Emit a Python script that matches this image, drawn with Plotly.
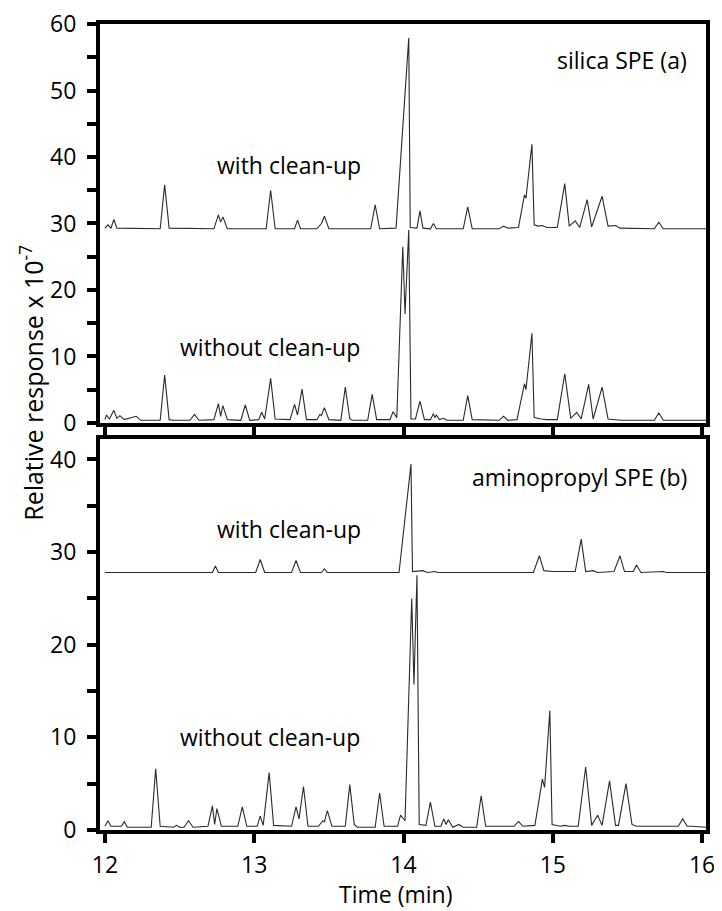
import plotly.graph_objects as go

# silica SPE (a) -- with clean-up (retention time in min, response x 1e-7)
silica_with_t = [12.00, 12.02, 12.04, 12.06, 12.08, 12.37, 12.40, 12.43, 12.73, 12.76, 12.775, 12.79, 12.82,
                 13.08, 13.11, 13.14, 13.27, 13.29, 13.31, 13.42, 13.45, 13.47, 13.50, 13.78, 13.81, 13.84,
                 13.95, 14.035, 14.045, 14.09, 14.11, 14.13, 14.18, 14.20, 14.22, 14.40, 14.43, 14.46,
                 14.64, 14.67, 14.70, 14.77, 14.81, 14.82, 14.86, 14.875, 14.90, 14.93, 14.96,
                 15.03, 15.08, 15.11, 15.15, 15.18, 15.23, 15.26, 15.33, 15.37, 15.42, 15.45,
                 15.68, 15.71, 15.74, 16.03]
silica_with_v = [29.3, 29.8, 29.3, 30.6, 29.3, 29.2, 35.8, 29.3, 29.2, 31.3, 30.2, 31.0, 29.2,
                 29.2, 35.0, 29.2, 29.2, 30.5, 29.2, 29.2, 30.0, 31.1, 29.2, 29.2, 32.8, 29.2,
                 29.3, 57.9, 29.4, 29.3, 31.9, 29.3, 29.2, 30.0, 29.2, 29.2, 32.5, 29.2,
                 29.2, 29.6, 29.3, 29.4, 34.3, 33.8, 41.9, 29.8, 29.6, 29.7, 29.4,
                 29.4, 36.0, 29.6, 30.4, 29.4, 33.6, 29.5, 34.1, 29.6, 29.7, 29.3,
                 29.2, 30.2, 29.2, 29.2]

# silica SPE (a) -- without clean-up
silica_without_t = [12.00, 12.01, 12.03, 12.06, 12.08, 12.10, 12.13, 12.21, 12.24,
                    12.37, 12.40, 12.43, 12.46, 12.57, 12.60, 12.63,
                    12.73, 12.76, 12.775, 12.79, 12.82, 12.91, 12.94, 12.97,
                    13.03, 13.05, 13.07, 13.11, 13.14, 13.24, 13.27, 13.29, 13.32, 13.35,
                    13.42, 13.44, 13.45, 13.47, 13.50, 13.58, 13.61, 13.64, 13.66,
                    13.76, 13.79, 13.82, 13.91, 13.93, 13.955, 13.995, 14.01, 14.035, 14.05,
                    14.08, 14.11, 14.14, 14.18, 14.20, 14.21, 14.22, 14.24, 14.27, 14.29,
                    14.40, 14.43, 14.46, 14.64, 14.67, 14.70,
                    14.76, 14.81, 14.82, 14.86, 14.875, 14.92, 14.96,
                    15.03, 15.08, 15.12, 15.16, 15.19, 15.24, 15.27, 15.33, 15.37, 15.42, 15.46,
                    15.68, 15.71, 15.74, 16.03]
silica_without_v = [0.5, 1.2, 0.6, 1.9, 0.7, 1.1, 0.5, 1.0, 0.4,
                    0.4, 7.2, 0.5, 0.4, 0.4, 1.3, 0.4,
                    0.5, 2.9, 1.0, 2.6, 0.5, 0.4, 2.7, 0.4,
                    0.5, 1.6, 0.6, 6.7, 0.6, 0.5, 2.8, 1.2, 5.1, 0.5,
                    0.5, 1.3, 1.1, 2.3, 0.5, 0.4, 5.4, 0.6, 0.4,
                    0.4, 4.3, 0.5, 0.5, 1.7, 0.8, 26.5, 16.4, 29.0, 0.6,
                    0.6, 3.3, 0.5, 0.5, 1.4, 0.8, 1.2, 0.5, 0.7, 0.4,
                    0.4, 4.1, 0.5, 0.4, 1.0, 0.4,
                    0.5, 5.9, 5.0, 13.5, 0.8, 0.6, 0.5,
                    0.5, 7.4, 0.7, 1.6, 0.6, 5.8, 0.6, 5.4, 0.6, 0.5, 0.4,
                    0.4, 1.5, 0.4, 0.4]

# aminopropyl SPE (b) -- with clean-up
amino_with_t = [12.00, 12.72, 12.74, 12.76, 13.01, 13.04, 13.07, 13.25, 13.28, 13.31, 13.45, 13.47, 13.49,
                13.97, 14.05, 14.06, 14.13, 14.16, 14.21, 14.23, 14.87, 14.91, 14.94, 15.00,
                15.15, 15.19, 15.22, 15.27, 15.30, 15.41, 15.45, 15.48, 15.54, 15.56, 15.59,
                15.74, 15.76, 16.03]
amino_with_v = [27.8, 27.8, 28.5, 27.8, 27.8, 29.2, 27.8, 27.8, 29.1, 27.8, 27.8, 28.2, 27.8,
                27.8, 39.5, 27.9, 28.0, 27.8, 27.9, 27.8, 27.8, 29.6, 28.0, 27.9,
                27.9, 31.4, 27.9, 28.0, 27.8, 27.9, 29.6, 27.9, 27.9, 28.6, 27.8,
                27.9, 27.8, 27.8]

# aminopropyl SPE (b) -- without clean-up
amino_without_t = [12.00, 12.02, 12.04, 12.11, 12.13, 12.15, 12.31, 12.34, 12.37,
                   12.46, 12.48, 12.50, 12.53, 12.56, 12.59, 12.69, 12.72, 12.735, 12.75, 12.78,
                   12.89, 12.92, 12.95, 13.02, 13.04, 13.06, 13.10, 13.13,
                   13.25, 13.28, 13.30, 13.33, 13.36, 13.43, 13.46, 13.47, 13.49, 13.52,
                   13.61, 13.64, 13.67, 13.69, 13.81, 13.84, 13.87,
                   13.96, 13.98, 14.01, 14.055, 14.07, 14.09, 14.105,
                   14.15, 14.18, 14.21, 14.25, 14.27, 14.285, 14.30, 14.33, 14.37, 14.40,
                   14.49, 14.52, 14.55, 14.74, 14.77, 14.80,
                   14.88, 14.93, 14.945, 14.98, 14.995, 15.05, 15.08, 15.11,
                   15.17, 15.22, 15.26, 15.30, 15.33, 15.38, 15.42, 15.44, 15.49, 15.53, 15.56,
                   15.84, 15.87, 15.90, 15.93, 16.03]
amino_without_v = [0.4, 1.0, 0.4, 0.4, 0.9, 0.3, 0.3, 6.6, 0.4,
                   0.3, 0.5, 0.3, 0.3, 1.0, 0.3, 0.4, 2.6, 0.6, 2.3, 0.4,
                   0.4, 2.5, 0.4, 0.4, 1.5, 0.5, 6.2, 0.5,
                   0.4, 2.5, 1.2, 4.7, 0.4, 0.4, 1.0, 0.9, 2.1, 0.4,
                   0.4, 4.9, 0.6, 0.3, 0.3, 4.0, 0.4,
                   0.4, 1.6, 1.0, 25.0, 15.7, 27.5, 0.6,
                   0.5, 3.0, 0.4, 0.4, 1.2, 0.6, 1.1, 0.3, 0.6, 0.3,
                   0.3, 3.7, 0.4, 0.4, 0.9, 0.4,
                   0.5, 5.5, 4.6, 12.9, 0.6, 0.4, 0.5, 0.4,
                   0.4, 6.8, 0.5, 1.6, 0.5, 5.3, 0.5, 0.5, 5.0, 0.6, 0.4,
                   0.4, 1.2, 0.4, 0.4, 0.3]

x_ticks = [12, 13, 14, 15, 16]

FONT = 'Open Sans'
LINE = dict(color='#2a2a2a', width=1.1)

fig = go.Figure()
fig.add_trace(go.Scatter(x=silica_with_t, y=silica_with_v, mode='lines', line=LINE, xaxis='x2', yaxis='y2'))
fig.add_trace(go.Scatter(x=silica_without_t, y=silica_without_v, mode='lines', line=LINE, xaxis='x2', yaxis='y2'))
fig.add_trace(go.Scatter(x=amino_with_t, y=amino_with_v, mode='lines', line=LINE))
fig.add_trace(go.Scatter(x=amino_without_t, y=amino_without_v, mode='lines', line=LINE))

axis_common = dict(showline=True, linewidth=4, linecolor='black', mirror=True,
                   ticks='outside', ticklen=9, tickwidth=4, tickcolor='black',
                   showgrid=False, zeroline=False, automargin=False, ticklabeloverflow='allow',
                   tickfont=dict(family=FONT, size=23, color='black'))
minor_y = dict(dtick=5, ticks='outside', ticklen=9, tickwidth=4, tickcolor='black', showgrid=False)

# the page body adds an 8px margin at left/top; the extra 8px on the right/bottom just falls off-screen
fig.update_layout(
    width=714, height=903,
    margin=dict(l=92, r=16, t=16, b=81),
    paper_bgcolor='white', plot_bgcolor='white',
    showlegend=False,
    font=dict(family=FONT, size=23, color='black'),
    xaxis=dict(axis_common, range=[11.967, 16.026], tickvals=x_ticks, anchor='y',
               ticklabelstandoff=2),
    yaxis=dict(axis_common, range=[0, 42.2], dtick=10, domain=[0, 0.485], anchor='x',
               minor=minor_y, ticklabelstandoff=6),
    xaxis2=dict(axis_common, range=[11.967, 16.026], tickvals=x_ticks, anchor='y2',
                showticklabels=False),
    yaxis2=dict(axis_common, range=[0, 60], dtick=10, domain=[0.505, 1], anchor='x2',
                minor=minor_y, ticklabelstandoff=6),
)

notes = [
    ('silica SPE (a)', 0.972, 0.955, 'right'),
    ('with clean-up', 0.190, 0.825, 'left'),
    ('without clean-up', 0.129, 0.599, 'left'),
    ('aminopropyl SPE (b)', 0.972, 0.438, 'right'),
    ('with clean-up', 0.190, 0.373, 'left'),
    ('without clean-up', 0.129, 0.115, 'left'),
]
for text, x, y, anchor in notes:
    fig.add_annotation(text=text, x=x, y=y, xref='paper', yref='paper', xanchor=anchor, yanchor='middle',
                       showarrow=False, font=dict(family=FONT, size=23, color='black'))

fig.add_annotation(text='Relative response x 10<sup>-7</sup>', x=-0.112, y=0.555, xref='paper', yref='paper',
                   textangle=-90, showarrow=False, xanchor='center', yanchor='middle',
                   font=dict(family=FONT, size=25, color='black'))
fig.add_annotation(text='Time (min)', x=0.487, y=-0.079, xref='paper', yref='paper',
                   showarrow=False, xanchor='center', yanchor='middle',
                   font=dict(family=FONT, size=23, color='black'))

fig.write_html('out.html')
